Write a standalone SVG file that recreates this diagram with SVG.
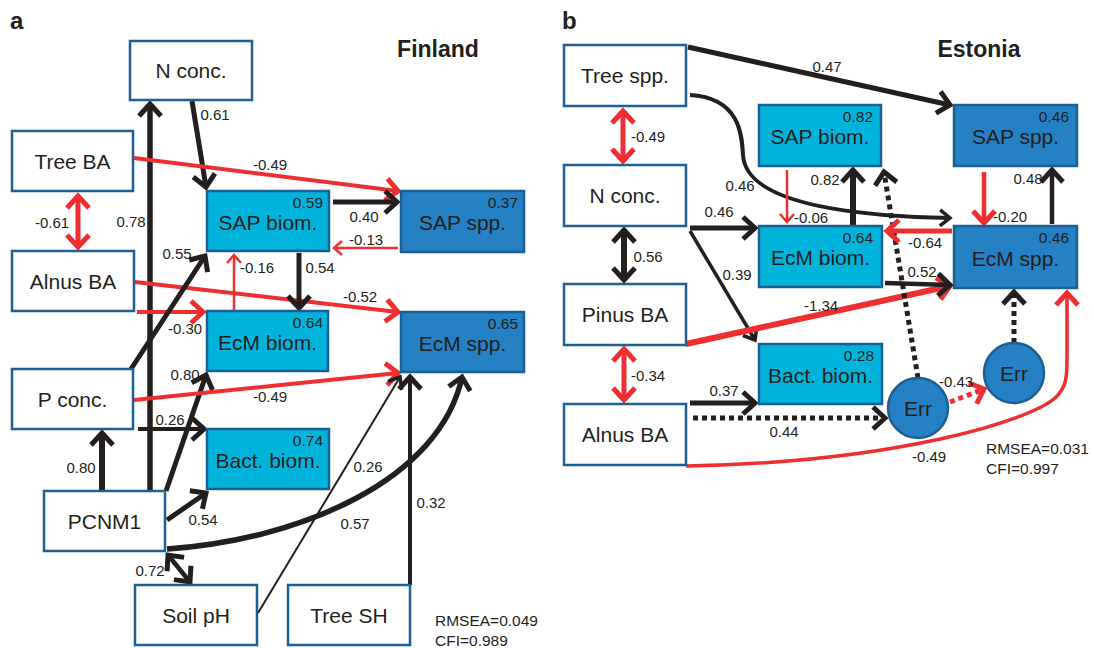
<svg xmlns="http://www.w3.org/2000/svg" width="1094" height="648" viewBox="0 0 1094 648">
<style>
text{font-family:"Liberation Sans",Arial,sans-serif;fill:#231f20}
.nl{font-size:21px;text-anchor:middle}
.r2{font-size:15.5px;text-anchor:end}
.el{font-size:15px;text-anchor:middle}
.fit{font-size:15.5px}
.ttl{font-size:23px;font-weight:bold;text-anchor:middle}
.pl{font-size:24px;font-weight:bold}
.bw{fill:#fff;stroke:#1c5f92;stroke-width:2.5}
.bc{fill:#00b3db;stroke:#1c5f92;stroke-width:2.5}
.bd{fill:#2581c3;stroke:#1c5f92;stroke-width:2.5}
.ec{fill:#2581c3;stroke:#1c5f92;stroke-width:2.5}
.k{fill:none;stroke:#231f20}
.r{fill:none;stroke:#ee2e31}
.dot{stroke-dasharray:5 4}
</style>
<defs>
<marker id="ak" viewBox="-16 -14 22 28" refX="0" refY="0" markerWidth="22" markerHeight="28" markerUnits="userSpaceOnUse" orient="auto-start-reverse"><path d="M-12,-11 L0,0 L-12,11" fill="none" stroke="#231f20" stroke-width="5"/></marker>
<marker id="aks" viewBox="-16 -14 22 28" refX="0" refY="0" markerWidth="22" markerHeight="28" markerUnits="userSpaceOnUse" orient="auto-start-reverse"><path d="M-10,-8 L0,0 L-10,8" fill="none" stroke="#231f20" stroke-width="3.5"/></marker>
<marker id="ar" viewBox="-16 -14 22 28" refX="0" refY="0" markerWidth="22" markerHeight="28" markerUnits="userSpaceOnUse" orient="auto-start-reverse"><path d="M-12,-11 L0,0 L-12,11" fill="none" stroke="#ee2e31" stroke-width="5"/></marker>
<marker id="ars" viewBox="-16 -14 22 28" refX="0" refY="0" markerWidth="22" markerHeight="28" markerUnits="userSpaceOnUse" orient="auto-start-reverse"><path d="M-8,-7 L0,0 L-8,7" fill="none" stroke="#ee2e31" stroke-width="2.5"/></marker>
</defs>

<text class="pl" x="10" y="29">a</text>
<text class="ttl" x="438" y="57">Finland</text>
<text class="pl" x="562" y="29">b</text>
<text class="ttl" x="979" y="57">Estonia</text>

<g id="connectors">
<!-- panel a -->
<path class="k" stroke-width="5.5" d="M150,491 L150,104" marker-end="url(#ak)"/>
<path class="k" stroke-width="5" d="M192,101 L206,187" marker-end="url(#ak)"/>
<path class="r" stroke-width="4" d="M134,158 L398,191" marker-end="url(#ar)"/>
<path class="r" stroke-width="5" d="M78,196 L78,247" marker-start="url(#ar)" marker-end="url(#ar)"/>
<path class="r" stroke-width="4" d="M135,282 L398,312" marker-end="url(#ar)"/>
<path class="r" stroke-width="4" d="M137,312 L203,312" marker-end="url(#ar)"/>
<path class="r" stroke-width="2.5" d="M234,311 L234,255" marker-end="url(#ars)"/>
<path class="k" stroke-width="5" d="M333,202 L397,202" marker-end="url(#ak)"/>
<path class="r" stroke-width="2.5" d="M398,248 L334,248" marker-end="url(#ars)"/>
<path class="k" stroke-width="5" d="M299,253 L299,308" marker-end="url(#ak)"/>
<path class="k" stroke-width="5" d="M131,369 L205,256" marker-end="url(#ak)"/>
<path class="k" stroke-width="5" d="M166,491 L206,375" marker-end="url(#ak)"/>
<path class="r" stroke-width="4" d="M134,400 L398,373" marker-end="url(#ar)"/>
<path class="k" stroke-width="4" d="M138,429 L204,429" marker-end="url(#ak)"/>
<path class="k" stroke-width="5" d="M167,520 L206,493" marker-end="url(#ak)"/>
<path class="k" stroke-width="6" d="M102,491 L102,433" marker-end="url(#ak)"/>
<path class="k" stroke-width="4.5" d="M168,555 L190,582" marker-start="url(#ak)" marker-end="url(#ak)"/>
<path class="k" stroke-width="5.5" d="M167,549 C300,540 440,480 462,377" marker-end="url(#ak)"/>
<path class="k" stroke-width="2" d="M258,613 L400,377" marker-end="url(#aks)"/>
<path class="k" stroke-width="4" d="M410,585 L410,377" marker-end="url(#ak)"/>

<!-- panel b -->
<path class="k" stroke-width="5" d="M688,47 L950,105" marker-end="url(#ak)"/>
<path class="k" stroke-width="4" d="M690,95 C740,98 742,135 743,155 C745,190 800,215 950,218" marker-end="url(#aks)"/>
<path class="r" stroke-width="5" d="M623,111 L623,161" marker-start="url(#ar)" marker-end="url(#ar)"/>
<path class="k" stroke-width="6" d="M624,230 L624,280" marker-start="url(#ak)" marker-end="url(#ak)"/>
<path class="r" stroke-width="5" d="M624,349 L624,400" marker-start="url(#ar)" marker-end="url(#ar)"/>
<path class="k" stroke-width="5" d="M690,228 L755,228" marker-end="url(#ak)"/>
<path class="k" stroke-width="3.5" d="M690,231 L755,340" marker-end="url(#aks)"/>
<path class="r" stroke-width="6" d="M686,344 L950,286" marker-end="url(#ar)"/>
<path class="r" stroke-width="2.5" d="M787,170 L787,222" marker-end="url(#ars)"/>
<path class="k" stroke-width="6" d="M853,225 L853,170" marker-end="url(#ak)"/>
<path class="k dot" stroke-width="5" d="M918,378 L884,172" marker-end="url(#ak)"/>
<path class="r" stroke-width="5" d="M952,231 L887,231" marker-end="url(#ar)"/>
<path class="k" stroke-width="4.5" d="M885,283 L950,285" marker-end="url(#ak)"/>
<path class="r" stroke-width="4.5" d="M984,172 L984,223" marker-end="url(#ar)"/>
<path class="k" stroke-width="4.5" d="M1052,224 L1052,170" marker-end="url(#ak)"/>
<path class="k dot" stroke-width="5" d="M1014,343 L1014,292" marker-end="url(#ak)"/>
<path class="r" stroke-width="3.5" d="M686,466 C900,462 1030,420 1055,398 C1066,388 1067,378 1067,360 L1067,293" marker-end="url(#ar)"/>
<path class="k" stroke-width="5" d="M690,403 L755,403" marker-end="url(#ak)"/>
<path class="k dot" stroke-width="5" d="M693,418 L885,418" marker-end="url(#ak)"/>
<path class="r dot" stroke-width="5" d="M950,402 L984,389" marker-end="url(#ar)"/>
</g>

<g id="edge-labels">
<text class="el" x="215" y="120">0.61</text>
<text class="el" x="131" y="227">0.78</text>
<text class="el" x="270" y="170">-0.49</text>
<text class="el" x="52" y="228">-0.61</text>
<text class="el" x="177" y="259">0.55</text>
<text class="el" x="257" y="273">-0.16</text>
<text class="el" x="185" y="334">-0.30</text>
<text class="el" x="364" y="222">0.40</text>
<text class="el" x="366" y="245">-0.13</text>
<text class="el" x="320" y="273">0.54</text>
<text class="el" x="360" y="302">-0.52</text>
<text class="el" x="185" y="380">0.80</text>
<text class="el" x="270" y="402">-0.49</text>
<text class="el" x="170" y="425">0.26</text>
<text class="el" x="203" y="525">0.54</text>
<text class="el" x="81" y="473">0.80</text>
<text class="el" x="150" y="576">0.72</text>
<text class="el" x="368" y="472">0.26</text>
<text class="el" x="355" y="529">0.57</text>
<text class="el" x="431" y="508">0.32</text>

<text class="el" x="827" y="72">0.47</text>
<text class="el" x="648" y="142">-0.49</text>
<text class="el" x="740" y="191">0.46</text>
<text class="el" x="719" y="217">0.46</text>
<text class="el" x="648" y="262">0.56</text>
<text class="el" x="737" y="280">0.39</text>
<text class="el" x="821" y="311">-1.34</text>
<text class="el" x="811" y="223">-0.06</text>
<text class="el" x="825" y="185">0.82</text>
<text class="el" x="925" y="248">-0.64</text>
<text class="el" x="922" y="277">0.52</text>
<text class="el" x="1010" y="222">-0.20</text>
<text class="el" x="1028" y="184">0.48</text>
<text class="el" x="648" y="381">-0.34</text>
<text class="el" x="724" y="396">0.37</text>
<text class="el" x="784" y="437">0.44</text>
<text class="el" x="956" y="387">-0.43</text>
<text class="el" x="929" y="462">-0.49</text>
</g>

<!-- panel a nodes -->
<g id="a-nconc"><rect class="bw" x="130" y="41" width="122" height="59"/><text class="nl" x="191" y="78">N conc.</text></g>
<g id="a-treeba"><rect class="bw" x="12" y="131" width="121" height="60"/><text class="nl" x="72.5" y="168.5">Tree BA</text></g>
<g id="a-alnusba"><rect class="bw" x="12" y="251" width="122" height="60"/><text class="nl" x="73" y="288.5">Alnus BA</text></g>
<g id="a-sapbiom"><rect class="bc" x="207" y="191" width="122" height="60"/><text class="nl" x="268" y="229.5">SAP biom.</text><text class="r2" x="323" y="208">0.59</text></g>
<g id="a-sapspp"><rect class="bd" x="401" y="191" width="123" height="61"/><text class="nl" x="462.5" y="230">SAP spp.</text><text class="r2" x="518" y="208">0.37</text></g>
<g id="a-ecmbiom"><rect class="bc" x="207" y="311" width="121" height="60"/><text class="nl" x="267.5" y="349.5">EcM biom.</text><text class="r2" x="323" y="328">0.64</text></g>
<g id="a-ecmspp"><rect class="bd" x="401" y="312" width="123" height="60"/><text class="nl" x="462.5" y="350.5">EcM spp.</text><text class="r2" x="518" y="329">0.65</text></g>
<g id="a-pconc"><rect class="bw" x="12" y="369" width="121" height="60"/><text class="nl" x="72.5" y="406.5">P conc.</text></g>
<g id="a-bact"><rect class="bc" x="207" y="429" width="122" height="60"/><text class="nl" x="268" y="467.5">Bact. biom.</text><text class="r2" x="323" y="446">0.74</text></g>
<g id="a-pcnm1"><rect class="bw" x="44" y="491" width="121" height="60"/><text class="nl" x="104.5" y="528.5">PCNM1</text></g>
<g id="a-soilph"><rect class="bw" x="135" y="585" width="122" height="60"/><text class="nl" x="196" y="622.5">Soil pH</text></g>
<g id="a-treesh"><rect class="bw" x="288" y="585" width="122" height="60"/><text class="nl" x="349" y="622.5">Tree SH</text></g>
<g id="a-fit"><text class="fit" x="435" y="626">RMSEA=0.049</text><text class="fit" x="435" y="646">CFI=0.989</text></g>

<!-- panel b nodes -->
<g id="b-treespp"><rect class="bw" x="564" y="45" width="122" height="61"/><text class="nl" x="625" y="83">Tree spp.</text></g>
<g id="b-nconc"><rect class="bw" x="564" y="165" width="122" height="61"/><text class="nl" x="625" y="203">N conc.</text></g>
<g id="b-pinusba"><rect class="bw" x="564" y="284" width="122" height="61"/><text class="nl" x="625" y="322">Pinus BA</text></g>
<g id="b-alnusba"><rect class="bw" x="564" y="404" width="122" height="61"/><text class="nl" x="625" y="442">Alnus BA</text></g>
<g id="b-sapbiom"><rect class="bc" x="759" y="105" width="122" height="61"/><text class="nl" x="820" y="144">SAP biom.</text><text class="r2" x="873" y="122">0.82</text></g>
<g id="b-ecmbiom"><rect class="bc" x="759" y="226" width="123" height="61"/><text class="nl" x="820.5" y="265">EcM biom.</text><text class="r2" x="873" y="243">0.64</text></g>
<g id="b-bact"><rect class="bc" x="759" y="344" width="123" height="60"/><text class="nl" x="820.5" y="382.5">Bact. biom.</text><text class="r2" x="874" y="361">0.28</text></g>
<g id="b-sapspp"><rect class="bd" x="954" y="105" width="123" height="61"/><text class="nl" x="1015.5" y="144">SAP spp.</text><text class="r2" x="1069" y="122">0.46</text></g>
<g id="b-ecmspp"><rect class="bd" x="954" y="226" width="123" height="62"/><text class="nl" x="1015.5" y="265.5">EcM spp.</text><text class="r2" x="1069" y="243">0.46</text></g>
<g id="b-err1"><circle class="ec" cx="918" cy="408" r="30"/><text class="nl" x="918" y="415.5">Err</text></g>
<g id="b-err2"><circle class="ec" cx="1014" cy="373" r="30"/><text class="nl" x="1014" y="380.5">Err</text></g>
<g id="b-fit"><text class="fit" x="986" y="454">RMSEA=0.031</text><text class="fit" x="986" y="474">CFI=0.997</text></g>
</svg>
